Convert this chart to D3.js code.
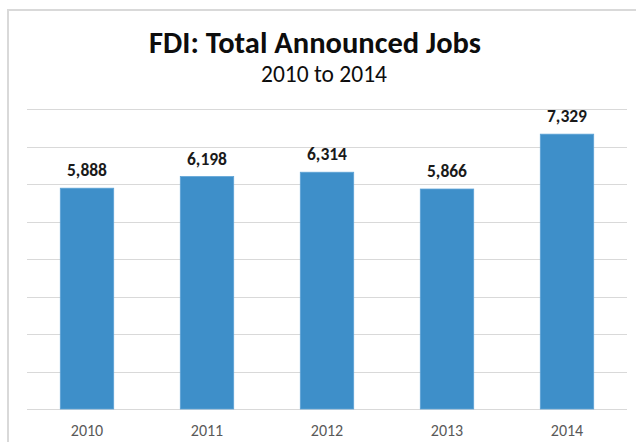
<!DOCTYPE html>
<html>
<head>
<meta charset="utf-8">
<script src="https://cdn.jsdelivr.net/npm/d3@7"></script>
<style>
  html, body { margin: 0; padding: 0; background: #fff; }
  svg { display: block; }
  text { font-family: Carlito, Calibri, Lato, "Noto Sans", sans-serif; }
</style>
</head>
<body>
<svg id="chart" width="636" height="442"></svg>
<script>
// Announced FDI jobs per year
const years = ["2010", "2011", "2012", "2013", "2014"];
const jobs = [5888, 6198, 6314, 5866, 7329];
const yTicks = [0, 1000, 2000, 3000, 4000, 5000, 6000, 7000, 8000];

const titleText = "FDI: Total Announced Jobs";
const subtitleText = "2010 to 2014";

const W = 636, H = 442;
const margin = { top: 109, right: 9, bottom: 33, left: 27 };
const innerW = W - margin.left - margin.right;
const innerH = H - margin.top - margin.bottom;

const svg = d3.select("#chart");

// outer chart frame
svg.append("rect")
  .attr("x", 8).attr("y", 10)
  .attr("width", W).attr("height", H)
  .attr("fill", "none")
  .attr("stroke", "#d9d9d9")
  .attr("stroke-width", 2);

const x = d3.scaleBand()
  .domain(years)
  .range([0, innerW])
  .paddingInner(0.555)
  .paddingOuter(0.2775);

const y = d3.scaleLinear()
  .domain([0, 8000])
  .range([innerH, 0]);

const g = svg.append("g")
  .attr("transform", `translate(${margin.left},${margin.top})`);

// horizontal gridlines
const yAxis = d3.axisLeft(y)
  .tickValues(yTicks)
  .tickSize(-innerW)
  .tickFormat("");
g.append("g")
  .attr("class", "grid")
  .call(yAxis)
  .call(s => s.select(".domain").remove())
  .call(s => s.selectAll(".tick line")
    .attr("stroke", "#d9d9d9")
    .attr("stroke-width", 1)
    .attr("shape-rendering", "crispEdges"));

// bars
g.selectAll("rect.bar")
  .data(years.map((yr, i) => ({ yr, v: jobs[i] })))
  .join("rect")
  .attr("class", "bar")
  .attr("x", d => x(d.yr))
  .attr("y", d => y(d.v))
  .attr("width", x.bandwidth())
  .attr("height", d => innerH - y(d.v))
  .attr("fill", "#3e8fc9")
  .attr("stroke", "#5ea3d6")
  .attr("stroke-width", 0.8);

// value labels
const fmt = d3.format(",");
g.selectAll("text.value")
  .data(years.map((yr, i) => ({ yr, v: jobs[i] })))
  .join("text")
  .attr("class", "value")
  .attr("x", d => x(d.yr) + x.bandwidth() / 2)
  .attr("y", d => y(d.v) - 12)
  .attr("text-anchor", "middle")
  .attr("font-size", 17.5)
  .attr("font-weight", "bold")
  .attr("fill", "#1a1a1a")
  .text(d => fmt(d.v));

// x axis labels
const xAxis = d3.axisBottom(x).tickSize(0).tickPadding(16);
g.append("g")
  .attr("transform", `translate(0,${innerH})`)
  .call(xAxis)
  .call(s => s.select(".domain").remove())
  .call(s => s.selectAll(".tick text")
    .attr("font-size", 16)
    .attr("fill", "#595959")
    .style("font-family", "Carlito, Calibri, Lato, 'Noto Sans', sans-serif"));

// titles
svg.append("text")
  .attr("x", 315).attr("y", 53)
  .attr("text-anchor", "middle")
  .attr("font-size", 30.5)
  .attr("font-weight", "bold")
  .attr("fill", "#0d0d0d")
  .text(titleText);

svg.append("text")
  .attr("x", 324).attr("y", 82)
  .attr("text-anchor", "middle")
  .attr("font-size", 23.5)
  .attr("fill", "#0d0d0d")
  .text(subtitleText);
</script>
</body>
</html>
